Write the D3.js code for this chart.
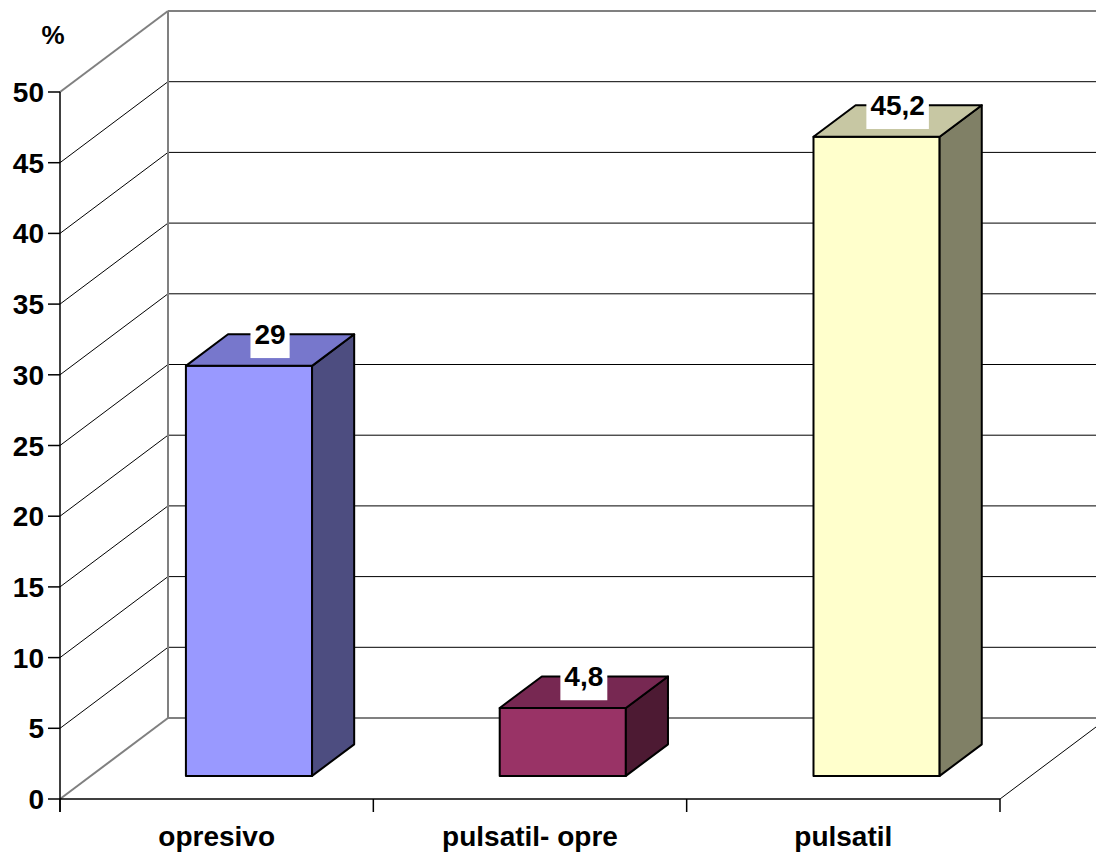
<!DOCTYPE html>
<html>
<head>
<meta charset="utf-8">
<script src="https://cdn.jsdelivr.net/npm/d3@7"></script>
<style>
  html, body { margin: 0; padding: 0; background: #fff; }
  svg { display: block; }
  text { font-family: "Liberation Sans", Arial, sans-serif; font-weight: bold; fill: #000; }
</style>
</head>
<body>
<svg id="chart" width="1096" height="856"></svg>
<script>
// Chart data
const categories = ["opresivo", "pulsatil- opre", "pulsatil"];
const values = [29, 4.8, 45.2];
const valueLabels = ["29", "4,8", "45,2"];
const barColors = ["#9999FF", "#993366", "#FFFFCC"];
const yTicks = [0, 5, 10, 15, 20, 25, 30, 35, 40, 45, 50];
const yTitle = "%";

const svg = d3.select("#chart");

// Front plane scales
const y = d3.scaleLinear().domain([0, 50]).range([799, 92]);
const x = d3.scaleBand().domain(categories).range([61, 1003])
  .paddingInner(0.598).paddingOuter(0.3);

// Depth projection of the 3D box (full depth offset)
const DX = 108, DY = -81;
const barFront = 0.285, barBack = 0.675;

const grayWall = "#808080";

// Back wall and side wall gridlines
const g = svg.append("g");
yTicks.forEach(t => {
  const yy = y(t) + DY;
  const isEdge = (t === 0 || t === 50);
  g.append("line")
    .attr("x1", 60 + DX).attr("x2", 1000 + DX)
    .attr("y1", yy).attr("y2", yy)
    .attr("stroke", isEdge ? grayWall : "#000")
    .attr("stroke-width", isEdge ? 2 : 1);
  g.append("line")
    .attr("x1", 60).attr("y1", y(t))
    .attr("x2", 60 + DX).attr("y2", y(t) + DY)
    .attr("stroke", isEdge ? grayWall : "#000")
    .attr("stroke-width", isEdge ? 2 : 1);
});
// Wall corner
g.append("line")
  .attr("x1", 60 + DX).attr("x2", 60 + DX)
  .attr("y1", y(50) + DY).attr("y2", y(0) + DY)
  .attr("stroke", grayWall).attr("stroke-width", 2);

// Floor right edge
g.append("line")
  .attr("x1", 1000).attr("y1", y(0))
  .attr("x2", 1000 + DX).attr("y2", y(0) + DY)
  .attr("stroke", "#000").attr("stroke-width", 1);

// Value axis
const axisG = svg.append("g");
axisG.append("line")
  .attr("x1", 60).attr("x2", 60)
  .attr("y1", y(50)).attr("y2", y(0) + 13)
  .attr("stroke", "#000").attr("stroke-width", 1.5);
yTicks.forEach(t => {
  axisG.append("line")
    .attr("x1", 48).attr("x2", 60)
    .attr("y1", y(t)).attr("y2", y(t))
    .attr("stroke", "#000").attr("stroke-width", 1.5);
  axisG.append("text")
    .attr("x", 44).attr("y", y(t))
    .attr("dy", "0.36em")
    .attr("text-anchor", "end")
    .attr("font-size", 28)
    .text(t);
});
axisG.append("text")
  .attr("x", 53).attr("y", 44)
  .attr("text-anchor", "middle")
  .attr("font-size", 26)
  .text(yTitle);

// Category axis
axisG.append("line")
  .attr("x1", 60).attr("x2", 1000)
  .attr("y1", y(0)).attr("y2", y(0))
  .attr("stroke", "#000").attr("stroke-width", 1.5);
const catEdges = d3.range(categories.length + 1).map(i => 60 + i * (940 / categories.length));
catEdges.forEach(cx => {
  axisG.append("line")
    .attr("x1", cx).attr("x2", cx)
    .attr("y1", y(0)).attr("y2", y(0) + 13)
    .attr("stroke", "#000").attr("stroke-width", 1.5);
});
categories.forEach((c, i) => {
  axisG.append("text")
    .attr("x", (catEdges[i] + catEdges[i + 1]) / 2)
    .attr("y", 846)
    .attr("text-anchor", "middle")
    .attr("font-size", 28)
    .text(c);
});

// Bars
const barsG = svg.append("g");
const depth = barBack - barFront;
categories.forEach((c, i) => {
  const v = values[i];
  const col = d3.color(barColors[i]);
  const topCol = d3.rgb(col.r * 0.78, col.g * 0.78, col.b * 0.8);
  const sideCol = d3.rgb(col.r * 0.5, col.g * 0.5, col.b * 0.5);
  const x0 = x(c) + barFront * DX;
  const x1 = x0 + x.bandwidth();
  const yT = y(v) + barFront * DY;
  const yB = y(0) + barFront * DY;
  const ddx = depth * DX, ddy = depth * DY;
  const line = d3.line();
  const style = sel => sel.attr("stroke", "#000").attr("stroke-width", 2).attr("stroke-linejoin", "round");
  barsG.append("path")
    .attr("d", line([[x0, yT], [x1, yT], [x1, yB], [x0, yB]]) + "Z")
    .attr("fill", col.formatHex()).call(style);
  barsG.append("path")
    .attr("d", line([[x1, yT], [x1 + ddx, yT + ddy], [x1 + ddx, yB + ddy], [x1, yB]]) + "Z")
    .attr("fill", sideCol.formatHex()).call(style);
  barsG.append("path")
    .attr("d", line([[x0, yT], [x1, yT], [x1 + ddx, yT + ddy], [x0 + ddx, yT + ddy]]) + "Z")
    .attr("fill", topCol.formatHex()).call(style);

  // Value label on a white box above the bar top
  const cx = (x0 + x1) / 2 + ddx / 2;
  const cy = yT + ddy / 2;
  const lbl = barsG.append("g");
  const rect = lbl.append("rect").attr("fill", "#fff");
  const txt = lbl.append("text")
    .attr("x", cx).attr("y", cy - 6)
    .attr("text-anchor", "middle")
    .attr("font-size", 28)
    .text(valueLabels[i]);
  const tw = txt.node().getComputedTextLength();
  rect.attr("x", cx - tw / 2 - 4).attr("width", tw + 8)
    .attr("y", cy - 31).attr("height", 39);
});
</script>
</body>
</html>
